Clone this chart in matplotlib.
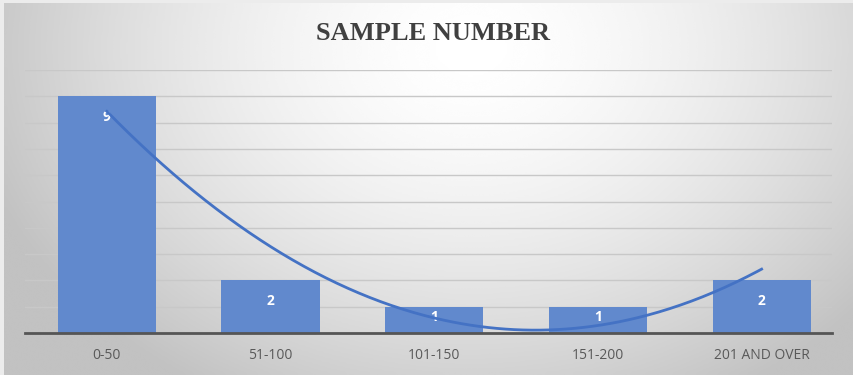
import numpy as np
import matplotlib
matplotlib.use("Agg")
import matplotlib.pyplot as plt

# Sample counts per size bucket
categories = ["0-50", "51-100", "101-150", "151-200", "201 AND OVER"]
counts = [9, 2, 1, 1, 2]
title = "SAMPLE NUMBER"

W, H, DPI = 854, 375, 100
fig = plt.figure(figsize=(W / DPI, H / DPI), dpi=DPI)
fig.patch.set_facecolor("#ececec")

# Chart-area background: soft radial gradient (white near top centre, grey edges)
bg = fig.add_axes([4 / W, 0, 1 - 4 / W, 1 - 3 / H])
bg.set_axis_off()
gx = np.linspace(0, 1, 400)
gy = np.linspace(0, 1, 200)
X, Y = np.meshgrid(gx, gy)
r = np.sqrt(((X - 0.55) / 0.62) ** 2 + ((Y - 0.12) / 1.1) ** 2)
shade = np.clip(1.0 - 0.25 * r ** 1.6, 0.76, 1.0)
bg.imshow(shade, cmap="gray", vmin=0, vmax=1, aspect="auto",
          extent=(0, 1, 1, 0), interpolation="bicubic")
bg.set_xlim(0, 1)
bg.set_ylim(1, 0)

# Plot area
left, right = 25 / W, 832 / W
bottom, top = 1 - 333 / H, 1 - 70 / H
ax = fig.add_axes([left, bottom, right - left, top - bottom])
ax.patch.set_alpha(0)

x = np.arange(1, len(categories) + 1)
bar_color = "#6189cd"
ax.bar(x, counts, width=0.6, color=bar_color, zorder=2)

ax.set_xlim(0.5, len(categories) + 0.43)
ax.set_ylim(0, 10)
ax.set_yticks(np.arange(0, 11, 1))
ax.yaxis.grid(True, color="#c8c8c8", linewidth=1.0, zorder=0)
ax.set_axisbelow(True)
ax.tick_params(axis="y", left=False, labelleft=False)
ax.tick_params(axis="x", bottom=False, colors="#595959", labelsize=10, pad=7)
ax.set_xticks(x)
ax.set_xticklabels(categories, fontfamily="Open Sans")
for s in ["left", "right", "top"]:
    ax.spines[s].set_visible(False)
ax.spines["bottom"].set_color("#555555")
ax.spines["bottom"].set_linewidth(2)
ax.spines["bottom"].set_zorder(3)

# Value labels inside the bars
for xi, v in zip(x, counts):
    off = min(0.8, 0.39 * v)
    ax.text(xi, v - off, str(v), ha="center", va="center", color="white",
            fontsize=10, fontweight="bold", fontfamily="Open Sans", zorder=3)

# Second-order polynomial trendline through the counts
coef = np.polyfit(x, counts, 2)
xs = np.linspace(x[0], x[-1], 300)
ax.plot(xs, np.polyval(coef, xs), color="#4472c4", linewidth=2, zorder=4)

fig.text(433 / W, 1 - 33 / H, title, ha="center", va="center", fontsize=19,
         fontweight="bold", fontfamily="Liberation Serif", color="#404040")

fig.savefig("out.png", dpi=DPI)
